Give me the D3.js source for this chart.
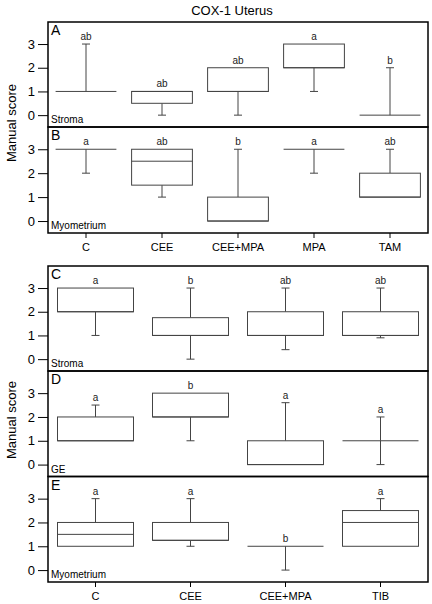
<!DOCTYPE html>
<html><head><meta charset="utf-8">
<script src="https://cdn.jsdelivr.net/npm/d3@7"></script>
<style>body{margin:0;background:#fff;} svg{display:block;font-family:"Liberation Sans",Arial,sans-serif;}</style>
</head><body><svg id="chart" width="432" height="604"></svg>
<script>
// ---- data ----
const topCategories = ["C", "CEE", "CEE+MPA", "MPA", "TAM"];
const bottomCategories = ["C", "CEE", "CEE+MPA", "TIB"];
const yTicks = [0, 1, 2, 3];

// Panel A – Stroma (top group)
const aMin = [1, 0, 0, 1, 0];
const aQ1  = [1, 0.5, 1, 2, 0];
const aMed = [1, 1, 1, 2, 0];
const aQ3  = [1, 1, 2, 3, 0];
const aMax = [3, 1, 2, 3, 2];
const aLetters = ["ab", "ab", "ab", "a", "b"];

// Panel B – Myometrium (top group)
const bMin = [2, 1, 0, 2, 1];
const bQ1  = [3, 1.5, 0, 3, 1];
const bMed = [3, 2.5, 0, 3, 1];
const bQ3  = [3, 3, 1, 3, 2];
const bMax = [3, 3, 3, 3, 3];
const bLetters = ["a", "ab", "b", "a", "ab"];

// Panel C – Stroma (bottom group)
const cMin = [1, 0, 0.4, 0.9];
const cQ1  = [2, 1, 1, 1];
const cMed = [2, 1, 1, 1];
const cQ3  = [3, 1.75, 2, 2];
const cMax = [3, 3, 3, 3];
const cLetters = ["a", "b", "ab", "ab"];

// Panel D – GE (bottom group)
const dMin = [1, 1, 0, 0];
const dQ1  = [1, 2, 0, 1];
const dMed = [1, 2, 0, 1];
const dQ3  = [2, 3, 1, 1];
const dMax = [2.5, 3, 2.6, 2];
const dLetters = ["a", "b", "a", "a"];

// Panel E – Myometrium (bottom group)
const eMin = [1, 1, 0, 1];
const eQ1  = [1, 1.25, 1, 1];
const eMed = [1.5, 1.25, 1, 2];
const eQ3  = [2, 2, 1, 2.5];
const eMax = [3, 3, 1, 3];
const eLetters = ["a", "a", "b", "a"];

// ---- layout ----
const svg = d3.select("#chart");
const X0 = 48, X1 = 428;
const boxColor = "#444";

svg.append("text").attr("x", 232).attr("y", 15).attr("text-anchor", "middle")
  .attr("font-size", 13).text("COX-1 Uterus");

function drawPanel(cfg) {
  const {cats, top, bottom, min, q1, med, q3, max, letters, tag, region, xAxis} = cfg;
  const x = d3.scaleBand().domain(cats).range([X0, X1]).padding(0);
  const y = d3.scaleLinear().domain([-0.5, 3.93]).range([bottom, top]);
  const g = svg.append("g");
  const bw = x.bandwidth() * 0.8;
  const cap = 8;
  cats.forEach((c, i) => {
    const cx = x(c) + x.bandwidth() / 2;
    if (max[i] > q3[i]) {
      g.append("line").attr("x1", cx).attr("x2", cx).attr("y1", y(q3[i])).attr("y2", y(max[i])).attr("stroke", boxColor);
      g.append("line").attr("x1", cx - cap / 2).attr("x2", cx + cap / 2).attr("y1", y(max[i])).attr("y2", y(max[i])).attr("stroke", boxColor);
    }
    if (min[i] < q1[i]) {
      g.append("line").attr("x1", cx).attr("x2", cx).attr("y1", y(q1[i])).attr("y2", y(min[i])).attr("stroke", boxColor);
      g.append("line").attr("x1", cx - cap / 2).attr("x2", cx + cap / 2).attr("y1", y(min[i])).attr("y2", y(min[i])).attr("stroke", boxColor);
    }
    g.append("rect").attr("x", cx - bw / 2).attr("width", bw)
      .attr("y", y(q3[i])).attr("height", Math.max(0, y(q1[i]) - y(q3[i])))
      .attr("fill", q3[i] > q1[i] ? "#fff" : "none").attr("stroke", boxColor).attr("stroke-width", 1);
    g.append("line").attr("x1", cx - bw / 2).attr("x2", cx + bw / 2).attr("y1", y(med[i])).attr("y2", y(med[i])).attr("stroke", boxColor);
    g.append("text").attr("x", cx).attr("y", y(max[i]) - 4).attr("text-anchor", "middle")
      .attr("font-size", 10).attr("fill", "#222").text(letters[i]);
  });
  g.append("rect").attr("x", X0).attr("y", top).attr("width", X1 - X0).attr("height", bottom - top)
    .attr("fill", "none").attr("stroke", "#000").attr("stroke-width", 1.5);
  const ya = svg.append("g").attr("transform", `translate(${X0},0)`)
    .call(d3.axisLeft(y).tickValues(yTicks).tickSize(10).tickPadding(3).tickFormat(d3.format("d")));
  ya.select(".domain").remove();
  ya.selectAll("text").attr("font-size", 13).attr("font-family", "Liberation Sans, Arial, sans-serif").attr("fill", "#000");
  ya.selectAll("line").attr("stroke", "#000");
  svg.append("text").attr("x", X0 + 3).attr("y", top + 13).attr("font-size", 14).text(tag);
  svg.append("text").attr("x", X0 + 3).attr("y", bottom - 4).attr("font-size", 10).text(region);
  if (xAxis) {
    const xa = svg.append("g").attr("transform", `translate(0,${bottom})`)
      .call(d3.axisBottom(x).tickSize(5).tickPadding(5));
    xa.select(".domain").remove();
    xa.selectAll("text").attr("font-size", 11).attr("font-family", "Liberation Sans, Arial, sans-serif").attr("fill", "#000");
    xa.selectAll("line").attr("stroke", "#000");
  }
}

drawPanel({cats: topCategories, top: 22, bottom: 127, min: aMin, q1: aQ1, med: aMed, q3: aQ3, max: aMax, letters: aLetters, tag: "A", region: "Stroma"});
drawPanel({cats: topCategories, top: 127, bottom: 233, min: bMin, q1: bQ1, med: bMed, q3: bQ3, max: bMax, letters: bLetters, tag: "B", region: "Myometrium", xAxis: true});
drawPanel({cats: bottomCategories, top: 266, bottom: 371, min: cMin, q1: cQ1, med: cMed, q3: cQ3, max: cMax, letters: cLetters, tag: "C", region: "Stroma"});
drawPanel({cats: bottomCategories, top: 371, bottom: 476.5, min: dMin, q1: dQ1, med: dMed, q3: dQ3, max: dMax, letters: dLetters, tag: "D", region: "GE"});
drawPanel({cats: bottomCategories, top: 476.5, bottom: 582, min: eMin, q1: eQ1, med: eMed, q3: eQ3, max: eMax, letters: eLetters, tag: "E", region: "Myometrium", xAxis: true});

svg.append("text").attr("transform", "translate(16,123) rotate(-90)").attr("text-anchor", "middle")
  .attr("font-size", 13).text("Manual score");
svg.append("text").attr("transform", "translate(16,420) rotate(-90)").attr("text-anchor", "middle")
  .attr("font-size", 13).text("Manual score");
</script></body></html>
